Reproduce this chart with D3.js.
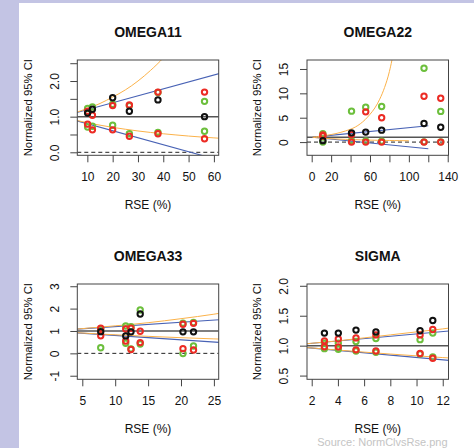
<!DOCTYPE html>
<html>
<head>
<meta charset="utf-8">
<script src="https://cdn.jsdelivr.net/npm/d3@7"></script>
<style>
  body { margin: 0; background: #fff; }
  svg { display: block; }
  text { font-family: "Liberation Sans", Arial, sans-serif; fill: #111; }
</style>
</head>
<body>
<svg width="474" height="448"></svg>
<script>
var titles = ["OMEGA11", "OMEGA22", "OMEGA33", "SIGMA"];

// reference lines (RSE %, normalized bound)
var blueRse = [1, 120];
var blueHi = [1.02, 3.34];
var blueLo = [0.98, -1.36];

var orangeRse = [1, 2, 4, 6, 8, 10, 12, 15, 20, 25, 30, 35, 40, 45, 50, 55, 60, 65, 70, 75, 80, 85, 90, 95, 100];
var orangeHi = [1.02, 1.04, 1.08, 1.13, 1.18, 1.23, 1.28, 1.37, 1.55, 1.75, 2.0, 2.3, 2.65, 3.1, 3.75, 4.6, 5.7, 7.0, 8.8, 11.2, 14.5, 19.5, 27, null, null];
var orangeLo = [0.98, 0.962, 0.926, 0.892, 0.86, 0.83, 0.801, 0.761, 0.70, 0.647, 0.599, 0.557, 0.52, 0.487, 0.456, 0.429, 0.405, 0.382, 0.362, 0.344, 0.327, 0.312, 0.298, 0.285, 0.273];

// OMEGA11
var rse11 = [10.1, 12.0, 20.0, 26.6, 37.9, 56.3];
var black11 = [1.10, 1.21, 1.53, 1.15, 1.47, 1.00];
var redHi11 = [1.15, 1.04, 1.31, 1.33, 1.69, 1.69];
var redLo11 = [0.79, 0.63, 0.63, 0.45, 0.52, 0.38];
var greenHi11 = [1.23, 1.27, 1.35, 1.31, 1.68, 1.43];
var greenLo11 = [0.71, 0.73, 0.76, 0.52, 0.56, 0.59];

// OMEGA22
var rse22 = [11.5, 41.0, 55.6, 72.0, 115.6, 132.8];
var black22 = [0.30, 1.90, 2.05, 2.45, 3.80, 3.05];
var redHi22 = [1.45, 1.55, 6.20, 5.00, 9.40, 9.00];
var redLo22 = [1.25, 0.00, 0.00, 0.00, 0.00, 0.00];
var greenHi22 = [1.70, 6.35, 7.15, 7.30, 15.15, 6.30];
var greenLo22 = [0.00, 0.30, 0.25, 0.20, 0.05, 0.05];

// OMEGA33
var rse33 = [7.8, 11.6, 12.4, 13.8, 20.3, 21.9];
var black33 = [0.97, 0.78, 0.96, 1.76, 0.96, 0.96];
var redHi33 = [1.12, 1.09, 1.12, 0.99, 1.30, 1.34];
var redLo33 = [0.79, 0.55, 0.17, 0.48, 0.21, 0.15];
var greenHi33 = [1.08, 1.22, 1.19, 1.94, 1.35, 1.38];
var greenLo33 = [0.25, 0.45, 0.20, 0.42, -0.01, 0.33];

// SIGMA
var rseS = [2.97, 4.03, 5.38, 6.9, 10.27, 11.24];
var blackS = [1.21, 1.21, 1.26, 1.23, 1.25, 1.42];
var redHiS = [1.08, 1.11, 1.13, 1.18, 1.18, 1.27];
var redLoS = [0.98, 0.98, 0.93, 0.91, 0.87, 0.79];
var greenHiS = [1.04, 1.04, 1.07, 1.12, 1.10, 1.21];
var greenLoS = [0.95, 0.94, 0.91, 0.89, 0.86, 0.81];

// ticks
var xTicks11 = [10, 20, 30, 40, 50, 60];
var xLabels11 = ["10", "20", "30", "40", "50", "60"];
var yTicks11 = [0, 0.5, 1, 1.5, 2, 2.5];
var yLabels11 = ["0.0", "", "1.0", "", "2.0", ""];

var xTicks22 = [0, 20, 40, 60, 80, 100, 120, 140];
var xLabels22 = ["0", "20", "", "60", "", "100", "", "140"];
var yTicks22 = [0, 5, 10, 15];
var yLabels22 = ["0", "5", "10", "15"];

var xTicks33 = [5, 10, 15, 20, 25];
var xLabels33 = ["5", "10", "15", "20", "25"];
var yTicks33 = [-1, 0, 1, 2, 3];
var yLabels33 = ["-1", "0", "1", "2", "3"];

var xTicksS = [2, 4, 6, 8, 10, 12];
var xLabelsS = ["2", "4", "6", "8", "10", "12"];
var yTicksS = [0.5, 1, 1.5, 2];
var yLabelsS = ["0.5", "1.0", "1.5", "2.0"];

var panels = [
  { title: titles[0], box: [77.3, 218.7, 60, 155.3], xd: [6.03, 61.9], yd: [-0.084, 2.59],
    rse: rse11, black: black11, redHi: redHi11, redLo: redLo11, greenHi: greenHi11, greenLo: greenLo11,
    xt: xTicks11, xl: xLabels11, yt: yTicks11, yl: yLabels11 },
  { title: titles[1], box: [307, 448.5, 60, 155.3], xd: [-4.84, 140.8], yd: [-2.71, 16.84],
    rse: rse22, black: black22, redHi: redHi22, redLo: redLo22, greenHi: greenHi22, greenLo: greenLo22,
    xt: xTicks22, xl: xLabels22, yt: yTicks22, yl: yLabels22 },
  { title: titles[2], box: [77.3, 218.7, 284, 379.3], xd: [4.24, 25.73], yd: [-1.16, 3.10],
    rse: rse33, black: black33, redHi: redHi33, redLo: redLo33, greenHi: greenHi33, greenLo: greenLo33,
    xt: xTicks33, xl: xLabels33, yt: yTicks33, yl: yLabels33 },
  { title: titles[3], box: [307, 448.5, 284, 379.3], xd: [1.64, 12.44], yd: [0.438, 2.03],
    rse: rseS, black: blackS, redHi: redHiS, redLo: redLoS, greenHi: greenHiS, greenLo: greenLoS,
    xt: xTicksS, xl: xLabelsS, yt: yTicksS, yl: yLabelsS }
];

var svg = d3.select("svg");
svg.append("rect").attr("width", 474).attr("height", 448).attr("fill", "#c3c4e4");
svg.append("rect").attr("x", 19).attr("y", 3).attr("width", 455).attr("height", 445).attr("fill", "#fff");

var colRed = "#ec2b24", colGreen = "#6cbf3c", colBlack = "#111";

function drawPanel(p, i) {
  var x = d3.scaleLinear().domain(p.xd).range([p.box[0], p.box[1]]);
  var y = d3.scaleLinear().domain(p.yd).range([p.box[3], p.box[2]]);
  var g = svg.append("g");

  g.append("clipPath").attr("id", "clip" + i)
    .append("rect")
    .attr("x", p.box[0]).attr("y", p.box[2])
    .attr("width", p.box[1] - p.box[0]).attr("height", p.box[3] - p.box[2]);

  var plot = g.append("g").attr("clip-path", "url(#clip" + i + ")");

  // reference lines at 1 and 0
  plot.append("line")
    .attr("x1", p.box[0]).attr("x2", p.box[1])
    .attr("y1", y(1)).attr("y2", y(1))
    .attr("stroke", "#555").attr("stroke-width", 1.5);
  plot.append("line")
    .attr("x1", p.box[0]).attr("x2", p.box[1])
    .attr("y1", y(0)).attr("y2", y(0))
    .attr("stroke", "#222").attr("stroke-width", 1)
    .attr("stroke-dasharray", "4,3");

  var curve = d3.line()
    .defined(function(d) { return d[1] != null; })
    .curve(d3.curveMonotoneX)
    .x(function(d) { return x(d[0]); })
    .y(function(d) { return y(d[1]); });

  [blueHi, blueLo].forEach(function(vals) {
    plot.append("path").datum(d3.zip(blueRse, vals))
      .attr("d", d3.line().x(function(d) { return x(d[0]); }).y(function(d) { return y(d[1]); }))
      .attr("fill", "none").attr("stroke", "#4862b5").attr("stroke-width", 1.1);
  });
  [orangeHi, orangeLo].forEach(function(vals) {
    plot.append("path").datum(d3.zip(orangeRse, vals))
      .attr("d", curve)
      .attr("fill", "none").attr("stroke", "#fbb24a").attr("stroke-width", 1);
  });

  function dots(vals, col) {
    plot.append("g").selectAll("circle")
      .data(d3.zip(p.rse, vals).filter(function(d) { return d[1] != null; }))
      .enter().append("circle")
      .attr("cx", function(d) { return x(d[0]); })
      .attr("cy", function(d) { return y(d[1]); })
      .attr("r", 2.7)
      .attr("fill", "none")
      .attr("stroke", col)
      .attr("stroke-width", 2);
  }
  dots(p.greenLo, colGreen);
  dots(p.greenHi, colGreen);
  dots(p.redLo, colRed);
  dots(p.redHi, colRed);
  dots(p.black, colBlack);

  // box
  g.append("rect")
    .attr("x", p.box[0]).attr("y", p.box[2])
    .attr("width", p.box[1] - p.box[0]).attr("height", p.box[3] - p.box[2])
    .attr("fill", "none").attr("stroke", "#444").attr("stroke-width", 1);

  // x axis
  var xa = g.append("g")
    .attr("transform", "translate(0," + p.box[3] + ")")
    .call(d3.axisBottom(x).tickValues(p.xt).tickSize(7).tickSizeOuter(0)
      .tickFormat(function(d, k) { return p.xl[k]; }));
  xa.select(".domain").remove();
  xa.selectAll("line").attr("stroke", "#444");
  xa.selectAll("text").attr("y", 26.2).attr("dy", null)
    .attr("font-size", 12).attr("fill", "#111").attr("font-family", null);

  // y axis
  var ya = g.append("g")
    .attr("transform", "translate(" + p.box[0] + ",0)")
    .call(d3.axisLeft(y).tickValues(p.yt).tickSize(7).tickSizeOuter(0)
      .tickFormat(function(d, k) { return p.yl[k]; }));
  ya.select(".domain").remove();
  ya.selectAll("line").attr("stroke", "#444");
  ya.selectAll("text")
    .attr("x", null).attr("dy", null)
    .attr("text-anchor", "middle")
    .attr("transform", "translate(-18.8,0) rotate(-90)")
    .attr("font-size", 12).attr("fill", "#111").attr("font-family", null);

  var cx = (p.box[0] + p.box[1]) / 2;
  var cy = (p.box[2] + p.box[3]) / 2;

  g.append("text")
    .attr("x", cx).attr("y", p.box[2] - 23)
    .attr("text-anchor", "middle")
    .attr("font-size", 14).attr("font-weight", "bold")
    .text(p.title);

  g.append("text")
    .attr("x", cx).attr("y", p.box[3] + 53.2)
    .attr("text-anchor", "middle")
    .attr("font-size", 12)
    .text("RSE (%)");

  g.append("text")
    .attr("transform", "translate(" + (p.box[0] - 45.8) + "," + cy + ") rotate(-90)")
    .attr("text-anchor", "middle")
    .attr("font-size", 11.3)
    .text("Normalized 95% CI");
}

panels.forEach(drawPanel);

svg.append("text")
  .attr("x", 447.5).attr("y", 446)
  .attr("text-anchor", "end")
  .attr("font-size", 11)
  .style("fill", "#c4c4c4")
  .text("Source: NormClvsRse.png");
</script>
</body>
</html>
